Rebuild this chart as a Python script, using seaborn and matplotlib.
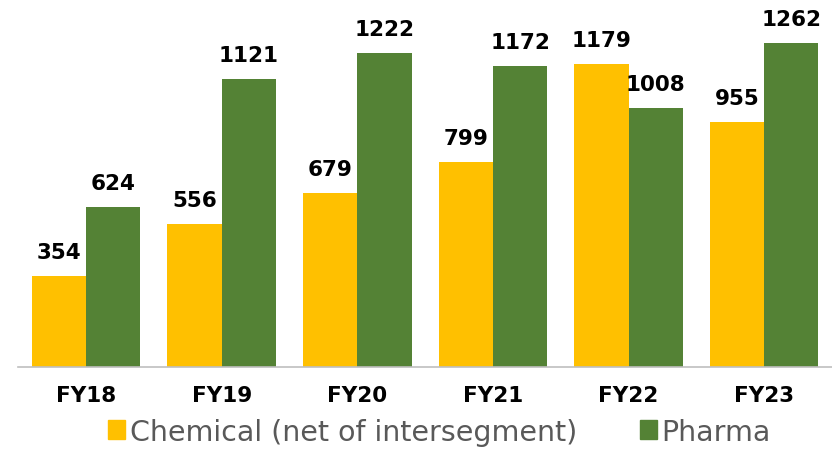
import matplotlib
matplotlib.use("Agg")
import matplotlib.pyplot as plt
import seaborn as sns
import pandas as pd
from matplotlib.patches import Patch

years = ["FY18", "FY19", "FY20", "FY21", "FY22", "FY23"]
chemical = [354, 556, 679, 799, 1179, 955]
pharma = [624, 1121, 1222, 1172, 1008, 1262]
series_names = ["Chemical (net of intersegment)", "Pharma"]
colors = ["#FFC000", "#548235"]

df = pd.DataFrame({
    "year": years * 2,
    "value": chemical + pharma,
    "series": [series_names[0]] * len(years) + [series_names[1]] * len(years),
})

sns.set_style("white")
plt.rcParams['font.family'] = ['DejaVu Sans']

fig = plt.figure(figsize=(8.32, 4.52), dpi=100)
ax = fig.add_axes([0.022, 0.186, 0.978, 0.814])
sns.barplot(data=df, x="year", y="value", hue="series", palette=colors,
            width=0.8, saturation=1, ax=ax, legend=False, linewidth=0)

for cont in ax.containers:
    ax.bar_label(cont, fmt="%d", padding=10, fontsize=15.5, fontweight="bold", color="black")

ax.set_ylim(0, 1433)
ax.set_xlim(-0.5, 5.5)
ax.set_xlabel("")
ax.set_ylabel("")
ax.set_yticks([])
for s in ["top", "right", "left"]:
    ax.spines[s].set_visible(False)
ax.spines["bottom"].set_color("#BFBFBF")
ax.spines["bottom"].set_linewidth(1.2)
ax.tick_params(axis="x", length=0, pad=13, labelsize=15.5, labelcolor="black")
for t in ax.get_xticklabels():
    t.set_fontweight("bold")

handles = [Patch(color=c) for c in colors]
fig.legend(handles, series_names, loc="center", bbox_to_anchor=(0.528, 0.043), ncol=2,
           frameon=False, fontsize=20.5, labelcolor="#595959", handlelength=0.6,
           handleheight=0.6, handletextpad=0.15, columnspacing=2.2)

fig.savefig("out.png", dpi=100)
